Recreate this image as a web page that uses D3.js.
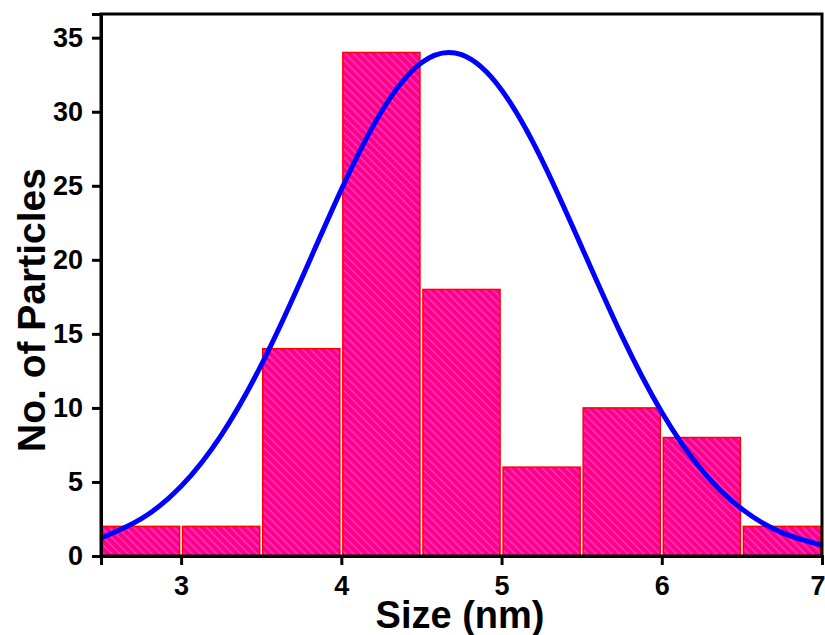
<!DOCTYPE html>
<html>
<head>
<meta charset="utf-8">
<script src="https://cdn.jsdelivr.net/npm/d3@7"></script>
<style>
  body { margin: 0; background: #fff; }
  text { font-family: "Liberation Sans", Arial, sans-serif; font-weight: bold; }
</style>
</head>
<body>
<div id="chart"></div>
<script>
const width = 825;
const height = 635;
const margin = { top: 14, right: 3, bottom: 79, left: 101 };

// histogram bins (nm) and counts
const binStarts = [2.5, 3.0, 3.5, 4.0, 4.5, 5.0, 5.5, 6.0, 6.5];
const binWidth = 0.5;
const counts = [2, 2, 14, 34, 18, 6, 10, 8, 2];

// fitted curve
const fitX = [2.5, 2.75, 3.0, 3.25, 3.5, 3.75, 4.0, 4.25, 4.5, 4.75, 5.0, 5.25, 5.5, 5.75, 6.0, 6.25, 6.5, 6.75, 7.0];
const fitY = [1.21, 2.5, 4.71, 8.15, 12.89, 18.67, 24.74, 30.0, 33.31, 33.85, 31.47, 26.79, 20.87, 14.88, 9.71, 5.8, 3.17, 1.58, 0.73];

const xTicks = [3, 4, 5, 6, 7];
const yTicks = [0, 5, 10, 15, 20, 25, 30, 35];

const svg = d3
  .select("#chart")
  .append("svg")
  .attr("width", width)
  .attr("height", height);

const defs = svg.append("defs");
const hatch = defs
  .append("pattern")
  .attr("id", "hatch")
  .attr("patternUnits", "userSpaceOnUse")
  .attr("width", 5.7)
  .attr("height", 6)
  .attr("patternTransform", "rotate(-45)");
hatch.append("rect").attr("width", 5.7).attr("height", 6).attr("fill", "#ff0084");
hatch
  .append("line")
  .attr("x1", 1).attr("y1", 0)
  .attr("x2", 1).attr("y2", 6)
  .attr("stroke", "#ff3ccc")
  .attr("stroke-width", 1.4);

defs
  .append("clipPath")
  .attr("id", "plotclip")
  .append("rect")
  .attr("x", margin.left)
  .attr("y", margin.top)
  .attr("width", width - margin.left - margin.right)
  .attr("height", height - margin.top - margin.bottom);

const x = d3
  .scaleLinear()
  .domain([2.5, 7])
  .range([margin.left, width - margin.right]);

const y = d3
  .scaleLinear()
  .domain([0, 36.6])
  .range([height - margin.bottom, margin.top]);

// bars
svg
  .append("g")
  .selectAll("rect")
  .data(counts)
  .join("rect")
  .attr("x", (d, i) => x(binStarts[i]) + 1.5)
  .attr("width", (d, i) => x(binStarts[i] + binWidth) - x(binStarts[i]) - 3)
  .attr("y", (d) => y(d))
  .attr("height", (d) => y(0) - y(d))
  .attr("fill", "url(#hatch)")
  .attr("stroke", "#ff0000")
  .attr("stroke-width", 1.5);

// fit curve
const line = d3
  .line()
  .x((d, i) => x(fitX[i]))
  .y((d) => y(d))
  .curve(d3.curveNatural);

svg
  .append("path")
  .datum(fitY)
  .attr("clip-path", "url(#plotclip)")
  .attr("d", line)
  .attr("fill", "none")
  .attr("stroke", "#0000ff")
  .attr("stroke-width", 5);

// frame
svg
  .append("rect")
  .attr("x", margin.left)
  .attr("y", margin.top)
  .attr("width", width - margin.left - margin.right)
  .attr("height", height - margin.top - margin.bottom)
  .attr("fill", "none")
  .attr("stroke", "#000")
  .attr("stroke-width", 3);

// axes
const xAxis = svg
  .append("g")
  .attr("transform", `translate(0,${height - margin.bottom})`)
  .call(d3.axisBottom(x).tickValues(xTicks).tickFormat(d3.format("d")).tickSize(9).tickPadding(11));

const yAxis = svg
  .append("g")
  .attr("transform", `translate(${margin.left},0)`)
  .call(d3.axisLeft(y).tickValues(yTicks).tickFormat(d3.format("d")).tickSize(9).tickPadding(9));

[xAxis, yAxis].forEach((g) => {
  g.select(".domain").attr("stroke-width", 3);
  g.selectAll(".tick line").attr("stroke-width", 3);
  g.selectAll(".tick text")
    .attr("font-size", 27)
    .attr("font-family", "Liberation Sans, Arial, sans-serif")
    .attr("font-weight", "bold")
    .attr("fill", "#000");
});

// keep the last x label inside the page
xAxis.selectAll(".tick text").filter((d) => d === 7).attr("text-anchor", "end").attr("dx", 3);

// titles
svg
  .append("text")
  .attr("x", 460)
  .attr("y", 628)
  .attr("text-anchor", "middle")
  .attr("font-size", 38)
  .text("Size (nm)");

svg
  .append("text")
  .attr("transform", "translate(45,310) rotate(-90)")
  .attr("text-anchor", "middle")
  .attr("font-size", 39)
  .text("No. of Particles");
</script>
</body>
</html>
